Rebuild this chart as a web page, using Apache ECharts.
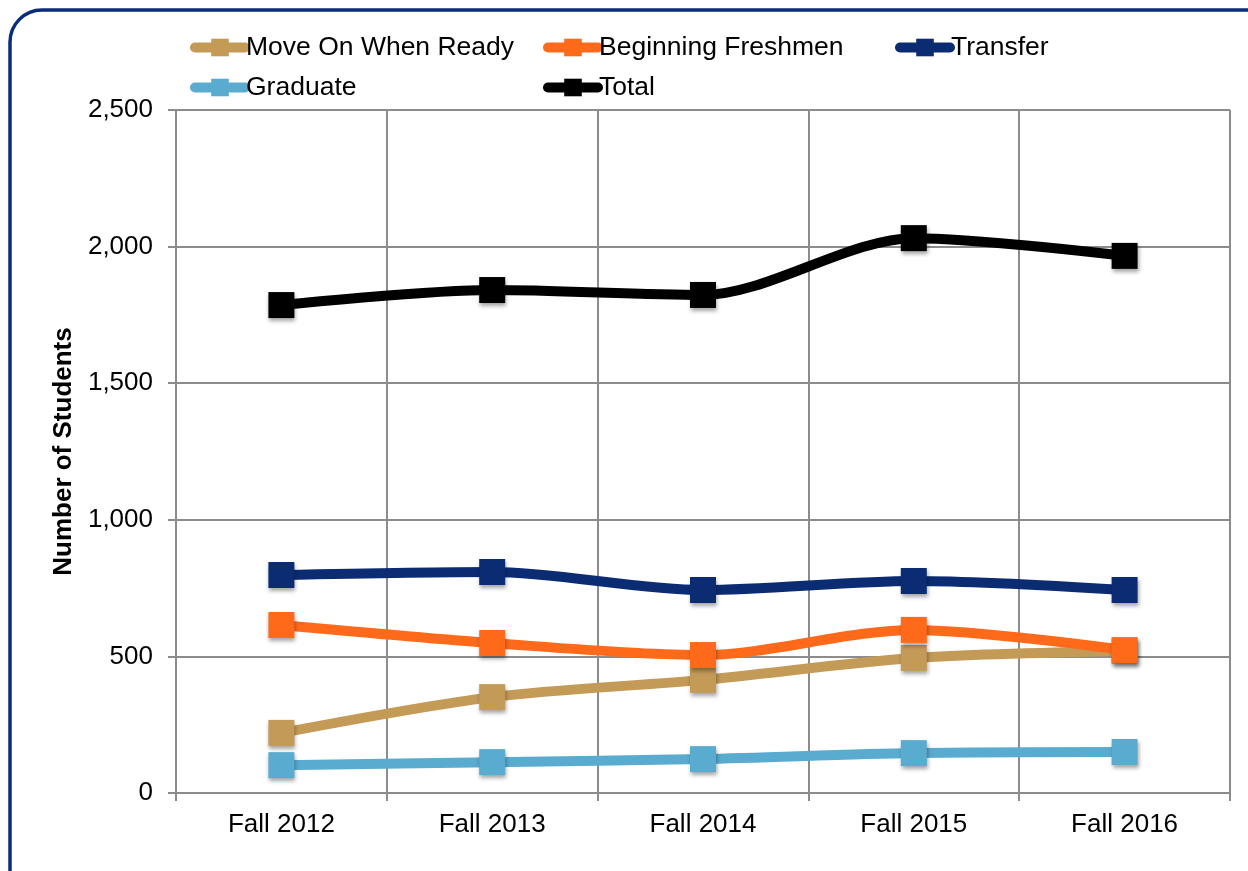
<!DOCTYPE html>
<html>
<head>
<meta charset="utf-8">
<script src="https://cdn.jsdelivr.net/npm/echarts@6/dist/echarts.min.js"></script>
<style>
  html, body { margin: 0; padding: 0; background: #fff; }
  #chart { width: 1248px; height: 871px; }
</style>
</head>
<body>
<div id="chart"></div>
<script>
// values
const years = ['Fall 2012', 'Fall 2013', 'Fall 2014', 'Fall 2015', 'Fall 2016']
const moveOn = [220, 351, 414, 494, 520]
const freshmen = [615, 549, 505, 597, 523]
const transfer = [798, 809, 743, 776, 743]
const graduate = [102, 113, 124, 146, 150]
const total = [1786, 1841, 1823, 2031, 1966]

const font = 'Liberation Sans, Arial, sans-serif'

const chart = echarts.init(document.getElementById('chart'))

function makeSeries (name, data, color) {
  return {
    name: name,
    type: 'line',
    data: data,
    smooth: 0.3,
    symbol: 'rect',
    symbolSize: 26,
    lineStyle: { width: 10, color: color },
    itemStyle: {
      color: color,
      shadowBlur: 4,
      shadowOffsetX: 1,
      shadowOffsetY: 3,
      shadowColor: 'rgba(0,0,0,0.35)'
    },
    emphasis: { disabled: true }
  }
}

const legendBase = {
  orient: 'vertical',
  top: 29,
  itemWidth: 50,
  itemHeight: 22,
  itemGap: 13,
  lineStyle: { width: 10, cap: 'round' },
  itemStyle: { shadowBlur: 0, shadowOffsetX: 0, shadowOffsetY: 0 },
  textStyle: { fontFamily: font, fontSize: 26.5, color: '#000', padding: [0, 0, 0, -4] }
}

const option = {
  animation: false,
  graphic: [{
    type: 'rect',
    shape: { x: 10, y: 10, width: 1270, height: 900, r: 32 },
    style: { fill: 'none', stroke: '#0b2c7a', lineWidth: 3.5 },
    z: -1
  }],
  legend: [
    Object.assign({}, legendBase, { left: 185, data: ['Move On When Ready', 'Graduate'] }),
    Object.assign({}, legendBase, { left: 538, data: ['Beginning Freshmen', 'Total'] }),
    Object.assign({}, legendBase, { left: 890, data: ['Transfer'] })
  ],
  grid: { left: 176, right: 18, top: 110, bottom: 78, containLabel: false },
  xAxis: {
    type: 'category',
    data: years,
    boundaryGap: true,
    axisLine: { lineStyle: { color: '#8c8c8c', width: 2 } },
    axisTick: { show: true, length: 8, lineStyle: { color: '#8c8c8c', width: 2 } },
    axisLabel: { fontFamily: font, fontSize: 26, color: '#000', margin: 19 },
    splitLine: { show: true, lineStyle: { color: '#8c8c8c', width: 2 } }
  },
  yAxis: {
    type: 'value',
    min: 0,
    max: 2500,
    interval: 500,
    name: 'Number of Students',
    nameLocation: 'middle',
    nameGap: 99,
    nameTextStyle: { fontFamily: font, fontSize: 26, fontWeight: 'bold', color: '#000' },
    axisLine: { show: true, lineStyle: { color: '#8c8c8c', width: 2 } },
    axisTick: { show: true, length: 8, lineStyle: { color: '#8c8c8c', width: 2 } },
    axisLabel: {
      fontFamily: font,
      fontSize: 26,
      color: '#000',
      margin: 23,
      formatter: v => v.toLocaleString('en-US')
    },
    splitLine: { show: true, lineStyle: { color: '#8c8c8c', width: 2 } }
  },
  series: [
    makeSeries('Move On When Ready', moveOn, '#c49a57'),
    makeSeries('Beginning Freshmen', freshmen, '#ff6a1a'),
    makeSeries('Transfer', transfer, '#0b2c73'),
    makeSeries('Graduate', graduate, '#5aabd0'),
    makeSeries('Total', total, '#000000')
  ]
}

chart.setOption(option)
</script>
</body>
</html>
